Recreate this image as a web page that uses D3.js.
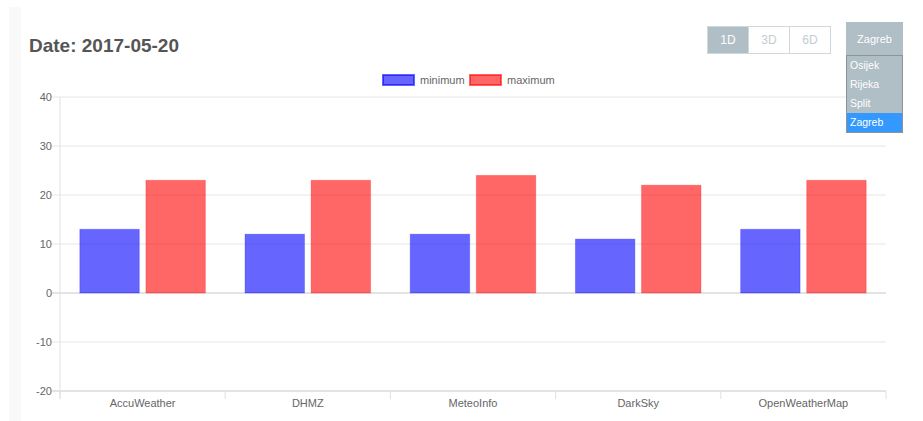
<!DOCTYPE html>
<html>
<head>
<meta charset="utf-8">
<script src="https://cdn.jsdelivr.net/npm/d3@7"></script>
<style>
	body { margin: 0; font-family: "Liberation Sans", Arial, sans-serif; background: #fff; }
	#page { position: relative; width: 923px; height: 421px; overflow: hidden; }
	.side { position: absolute; left: 9px; top: 7px; width: 12px; height: 414px; background: #f9f9f9; }
	h2 { position: absolute; left: 29px; top: 35px; margin: 0; font-size: 19px; font-weight: bold; color: #555; }
	.btns { position: absolute; left: 707px; top: 26px; height: 28px; display: flex; border: 1px solid #cfd8dc; box-sizing: border-box; }
	.btns div { width: 40px; line-height: 26px; text-align: center; font-size: 12px; color: #c3ccd0; border-left: 1px solid #cfd8dc; }
	.btns div:first-child { border-left: none; background: #b0bec5; color: #fff; }
	.city { position: absolute; left: 846px; top: 22px; width: 57px; height: 33px; background: #b0bec5; color: #fff; font-size: 11px; text-align: center; line-height: 35px; z-index: 2; }
	.list { position: absolute; left: 846px; top: 55px; width: 57px; height: 78px; background: #b0bec5; border: 1px solid #8a9499; box-sizing: border-box; z-index: 2; }
	.list div { height: 19px; line-height: 19px; padding-left: 3px; font-size: 10.5px; color: #fff; }
	.list div.sel { background: #3399ff; }
</style>
</head>
<body>
<div id="page">
	<div class="side"></div>
	<div id="chart" style="position:absolute;left:0;top:0;width:923px;height:421px;"></div>
	<h2>Date: 2017-05-20</h2>
	<div class="btns" id="btns"></div>
	<div class="city">Zagreb</div>
	<div class="list" id="list"></div>
</div>
<script>
//Chart data
const providers = ['AccuWeather', 'DHMZ', 'MeteoInfo', 'DarkSky', 'OpenWeatherMap'];
const minimum = [13, 12, 12, 11, 13];
const maximum = [23, 23, 24, 22, 23];
const yTicks = [-20, -10, 0, 10, 20, 30, 40];
const seriesNames = ['minimum', 'maximum'];
const ranges = ['1D', '3D', '6D'];
const cities = ['Osijek', 'Rijeka', 'Split', 'Zagreb'];

//Controls
d3.select('#btns').selectAll('div').data(ranges).enter().append('div').text(d => d);
d3.select('#list').selectAll('div').data(cities).enter().append('div')
	.classed('sel', d => d === 'Zagreb')
	.text(d => d);

//Append svg
const w = 923, h = 421;
const margin = {left: 60, right: 37, top: 97, bottom: 30};
const plot = d3.select('#chart').append('svg')
	.attr('width', w)
	.attr('height', h)
	.style('font-family', '"Liberation Sans", Arial, sans-serif');

const x = d3.scaleBand()
	.domain(providers)
	.range([margin.left, w - margin.right]);

const xInner = d3.scaleBand()
	.domain(seriesNames)
	.range([0, x.bandwidth() * 0.8]);

const y = d3.scaleLinear()
	.domain([-20, 40])
	.range([h - margin.bottom, margin.top]);

const colors = {minimum: 'rgba(0,0,255,0.6)', maximum: 'rgba(255,0,0,0.6)'};
const borders = {minimum: 'rgba(0,0,255,0.25)', maximum: 'rgba(255,0,0,0.25)'};

//Gridlines and y ticks
plot.selectAll('.grid')
	.data(yTicks)
	.enter()
	.append('line')
	.attr('x1', margin.left - 8)
	.attr('x2', w - margin.right)
	.attr('y1', d => y(d))
	.attr('y2', d => y(d))
	.style('stroke', d => (d === 0 || d === -20) ? '#c8c8c8' : '#e6e6e6')
	.style('stroke-width', '1px');

plot.selectAll('.ylab')
	.data(yTicks)
	.enter()
	.append('text')
	.attr('x', margin.left - 8)
	.attr('y', d => y(d))
	.attr('dy', '0.35em')
	.attr('text-anchor', 'end')
	.style('font-size', '11px')
	.style('fill', '#666')
	.text(d => d);

//Left axis line
plot.append('line')
	.attr('x1', margin.left).attr('x2', margin.left)
	.attr('y1', y(40)).attr('y2', y(-20) + 8)
	.style('stroke', '#e0e0e0');

//Category ticks
const bounds = providers.map(d => x(d)).concat([x.range()[1]]);
plot.selectAll('.xtick')
	.data(bounds)
	.enter()
	.append('line')
	.attr('x1', d => d).attr('x2', d => d)
	.attr('y1', y(-20)).attr('y2', y(-20) + 8)
	.style('stroke', '#e0e0e0');

plot.selectAll('.xlab')
	.data(providers)
	.enter()
	.append('text')
	.attr('x', d => x(d) + x.bandwidth() / 2)
	.attr('y', y(-20) + 16)
	.attr('text-anchor', 'middle')
	.style('font-size', '11px')
	.style('fill', '#666')
	.text(d => d);

//Bars
const rows = providers.map((p, i) => ({provider: p, minimum: minimum[i], maximum: maximum[i]}));
seriesNames.forEach(function(s){
	plot.selectAll('.bar-' + s)
		.data(rows)
		.enter()
		.append('rect')
		.attr('x', d => x(d.provider) + x.bandwidth() * 0.1 + xInner(s) + xInner.bandwidth() * 0.05)
		.attr('width', xInner.bandwidth() * 0.9)
		.attr('y', d => y(Math.max(0, d[s])))
		.attr('height', d => Math.abs(y(d[s]) - y(0)))
		.style('fill', colors[s])
		.style('stroke', borders[s])
		.style('stroke-width', '1px');
});

//Legend
const legendX = [382, 469];
const legend = plot.selectAll('.legend')
	.data(seriesNames)
	.enter()
	.append('g')
	.attr('transform', (d, i) => `translate(${legendX[i]},74)`);
legend.append('rect')
	.attr('x', 1).attr('y', 1)
	.attr('width', 31).attr('height', 10)
	.style('fill', d => colors[d])
	.style('stroke', d => colors[d])
	.style('stroke-width', '2px');
legend.append('text')
	.attr('x', 38)
	.attr('y', 6)
	.attr('dy', '0.35em')
	.style('font-size', '11px')
	.style('fill', '#666')
	.text(d => d);
</script>
</body>
</html>
